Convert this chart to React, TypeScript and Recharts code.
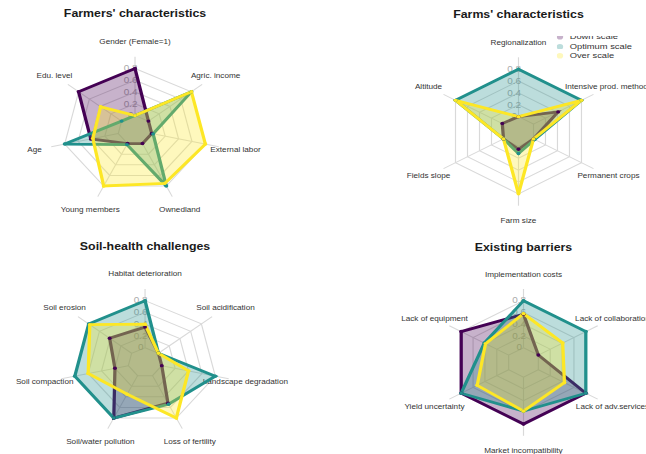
import React from 'react';
import { RadarChart, Radar, PolarGrid, PolarAngleAxis, PolarRadiusAxis, Legend } from 'recharts';

// Figure geometry: the panels are laid out on a narrower canvas and widened as a whole.
const STRETCH = 1.167;
const PAGE_W = 646;
const PAGE_H = 454;
const CANVAS_W = PAGE_W / STRETCH;
const PANEL_W = CANVAS_W / 2;
const PANEL_H = 227;

const FONT = '"Liberation Sans", Arial, Helvetica, sans-serif';

const seriesKeys = ['down', 'optimum', 'over'];
const seriesNames = ['Down scale', 'Optimum scale', 'Over scale'];
const seriesColors = ['#440154', '#21908C', '#FDE725'];

const radiusTicks = [0, 0.2, 0.4, 0.6, 0.8];

// Farmers' characteristics
const farmerAxes = ['Gender (Female=1)', 'Agric. income', 'External labor', 'Ownedland', 'Young members', 'Age', 'Edu. level'];
const farmerDown = [0.8, 0, 0, 0, 0, 0.41, 0.8];
const farmerOptimum = [0, 0.8, 0.02, 0.8, 0.02, 0.8, 0];
const farmerOver = [0, 0.8, 0.8, 0.75, 0.8, 0.38, 0.39];

// Farms' characteristics
const farmAxes = ['Regionalization', 'Intensive prod. methods', 'Permanent crops', 'Farm size', 'Fields slope', 'Altitude'];
const farmDown = [0, 0.41, 0, 0.05, 0, 0.02];
const farmOptimum = [0.8, 0.8, 0.02, 0.12, 0, 0.8];
const farmOver = [0, 0.8, 0, 0.8, 0, 0.8];

// Soil-health challenges
const soilAxes = ['Habitat deterioration', 'Soil acidification', 'Landscape degradation', 'Loss of fertility', 'Soil/water pollution', 'Soil compaction', 'Soil erosion'];
const soilDown = [0.35, 0, 0, 0.52, 0.8, 0.2, 0.41];
const soilOptimum = [0.8, 0, 0.8, 0.54, 0.8, 0.8, 0.8];
const soilOver = [0.4, 0, 0.4, 0.8, 0.35, 0.6, 0.78];

// Existing barriers
const barrierAxes = ['Implementation costs', 'Lack of collaboration', 'Lack of adv.services', 'Market incompatibility', 'Yield uncertainty', 'Lack of equipment'];
const barrierDown = [0.57, 0, 0.8, 0.8, 0.8, 0.8];
const barrierOptimum = [0.8, 0.8, 0.8, 0.58, 0.8, 0.41];
const barrierOver = [0.58, 0.41, 0.44, 0.58, 0.53, 0.39];

function buildRows(axes: string[], down: number[], optimum: number[], over: number[]) {
  return axes.map((axis, i) => ({ axis, down: down[i], optimum: optimum[i], over: over[i] }));
}

const farmerData = buildRows(farmerAxes, farmerDown, farmerOptimum, farmerOver);
const farmData = buildRows(farmAxes, farmDown, farmOptimum, farmOver);
const soilData = buildRows(soilAxes, soilDown, soilOptimum, soilOver);
const barrierData = buildRows(barrierAxes, barrierDown, barrierOptimum, barrierOver);

const AngleTick = (props: any) => {
  const { x, y, payload } = props;
  return (
    <text x={x} y={y} textAnchor="middle" dominantBaseline="central" fontFamily={FONT} fontSize={7} fill="#333333">
      {payload.value}
    </text>
  );
};

const makeRadiusTick = (radius: number) => (props: any) => {
  const { x, y, payload } = props;
  return (
    <text x={x - 0.05 * radius} y={y} textAnchor="middle" dominantBaseline="central" fontFamily={FONT} fontSize={8.5} fill="#ababab">
      {String(payload.value)}
    </text>
  );
};

const LegendContent = (props: any) => {
  const { payload } = props;
  return (
    <div style={{ marginTop: -3.75, fontFamily: FONT, fontSize: 8, color: '#333333' }}>
      {(payload || []).map((entry: any) => (
        <div key={entry.value} style={{ display: 'flex', alignItems: 'center', height: 9.5, lineHeight: '9.5px', whiteSpace: 'nowrap' }}>
          <svg width={5.6} height={5.6} style={{ display: 'block', flex: 'none' }}>
            <circle cx={2.8} cy={2.8} r={2.8} fill={entry.color} fillOpacity={0.3} />
          </svg>
          <span style={{ marginLeft: 5.5 }}>{entry.value}</span>
        </div>
      ))}
    </div>
  );
};

type PanelProps = {
  title: string;
  data: any[];
  left: number;
  top: number;
  cx: number;
  cy: number;
  radius: number;
  titleY: number;
  withLegend?: boolean;
};

function RadarPanel({ title, data, left, top, cx, cy, radius, titleY, withLegend }: PanelProps) {
  return (
    <div style={{ position: 'absolute', left, top, width: PANEL_W, height: PANEL_H }}>
      <RadarChart
        width={PANEL_W}
        height={PANEL_H}
        data={data}
        cx={cx}
        cy={cy}
        outerRadius={radius}
        innerRadius={radius / 5}
        margin={{ top: 0, right: 0, bottom: 0, left: 0 }}
      >
        <text x={cx} y={titleY} textAnchor="middle" fontFamily={FONT} fontWeight="bold" fontSize={10.6} fill="#1a1a1a">
          {title}
        </text>
        <PolarGrid gridType="polygon" stroke="#d9d9d9" strokeWidth={1} zIndex={-300} />
        <PolarAngleAxis dataKey="axis" axisLine={false} tickLine={false} tickSize={radius * 0.2} tick={AngleTick} zIndex={-200} />
        <PolarRadiusAxis
          angle={90}
          type="number"
          domain={[0, 0.8]}
          ticks={radiusTicks}
          axisLine={false}
          tickLine={false}
          tick={makeRadiusTick(radius)}
          zIndex={-200}
        />
        {withLegend && (
          <Legend
            layout="vertical"
            align="right"
            verticalAlign="top"
            content={LegendContent}
            wrapperStyle={{ left: 200.3, top: 36, width: 76, height: 25, overflow: 'hidden' }}
          />
        )}
        {seriesKeys.map((key, i) => (
          <Radar
            key={key}
            name={seriesNames[i]}
            dataKey={key}
            stroke={seriesColors[i]}
            strokeWidth={2.8}
            fill={seriesColors[i]}
            fillOpacity={0.3}
            dot={{ r: 1.7, fill: seriesColors[i], fillOpacity: 1, stroke: 'none' }}
            isAnimationActive={false}
          />
        ))}
      </RadarChart>
    </div>
  );
}

export default function App() {
  return (
    <div style={{ position: 'absolute', left: 0, top: 0, width: PAGE_W, height: PAGE_H, overflow: 'hidden', background: '#ffffff' }}>
      <div
        style={{
          position: 'absolute',
          left: 0,
          top: 0,
          width: CANVAS_W,
          height: PAGE_H,
          transform: `scaleX(${STRETCH})`,
          transformOrigin: '0 0',
        }}
      >
        <RadarPanel title="Farmers' characteristics" data={farmerData} left={0} top={0} cx={115.7} cy={130.3} radius={73.6} titleY={17.3} />
        <RadarPanel title="Farms' characteristics" data={farmData} left={PANEL_W} top={0} cx={167.3} cy={131.5} radius={74.2} titleY={17.5} withLegend />
        <RadarPanel title="Soil-health challenges" data={soilData} left={0} top={PANEL_H} cx={124.3} cy={135.4} radius={73.5} titleY={23.3} />
        <RadarPanel title="Existing barriers" data={barrierData} left={PANEL_W} top={PANEL_H} cx={171.6} cy={135.4} radius={73.4} titleY={23.8} />
      </div>
    </div>
  );
}
